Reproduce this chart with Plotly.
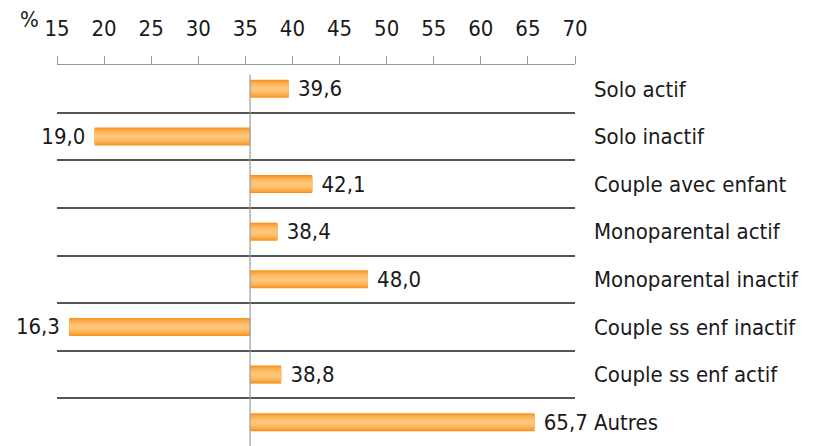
import plotly.graph_objects as go

categories = ["Solo actif", "Solo inactif", "Couple avec enfant", "Monoparental actif",
              "Monoparental inactif", "Couple ss enf inactif", "Couple ss enf actif", "Autres"]
values = [39.6, 19.0, 42.1, 38.4, 48.0, 16.3, 38.8, 65.7]
base_value = 35.5
x_ticks = list(range(15, 75, 5))

FONT = "DejaVu Sans Condensed, Liberation Sans Narrow, Arial Narrow, sans-serif"
SIZE = 22
deltas = [v - base_value for v in values]
labels = [(" " + f"{v:.1f}".replace(".", ",")) if v >= base_value
          else (f"{v:.1f}".replace(".", ",") + " ") for v in values]

fig = go.Figure()
# gradient look: stacked overlay layers of decreasing thickness
layers = [(0.38, "#F7931B"), (0.33, "#F9A136"), (0.28, "#FAAD4C"),
          (0.22, "#FBB75D"), (0.16, "#FCBF6B"), (0.09, "#FDC575")]
for i, (w, c) in enumerate(layers):
    fig.add_trace(go.Bar(
        y=categories, x=deltas, base=base_value, orientation="h",
        width=w, marker=dict(color=c, line=dict(width=0)),
        text=labels if i == 0 else None,
        textposition="outside" if i == 0 else "none",
        constraintext="none",
        textfont=dict(family=FONT, size=SIZE, color="#1a1a1a"),
        cliponaxis=False, hoverinfo="skip", showlegend=False,
    ))

fig.add_shape(type="line", xref="x", yref="paper", x0=base_value, x1=base_value,
              y0=0, y1=0.975, line=dict(color="#999999", width=1.2))

fig.add_annotation(text="%", xref="paper", yref="paper", x=-0.03, y=1.0, yshift=31,
                   xanchor="right", yanchor="bottom", showarrow=False,
                   font=dict(family=FONT, size=SIZE, color="#1a1a1a"))

fig.update_layout(
    width=814, height=446, barmode="overlay",
    margin=dict(l=49, r=247, t=57, b=8, autoexpand=False),
    paper_bgcolor="white", plot_bgcolor="white",
    font=dict(family=FONT, size=SIZE, color="#1a1a1a"),
    xaxis=dict(side="top", range=[15, 70], tickvals=x_ticks, ticks="outside",
               ticklen=8, tickcolor="#999999", tickwidth=1.2, showline=True,
               linecolor="#999999", linewidth=1.2, showgrid=False, zeroline=False,
               ticklabelstandoff=11, tickfont=dict(size=SIZE)),
    yaxis=dict(side="right", range=[7.5, -0.5], tickson="boundaries",
               showgrid=True, gridcolor="#555555", gridwidth=1.5, ticks="",
               ticklabelstandoff=18, showline=False, zeroline=False,
               tickfont=dict(size=SIZE)),
)

fig.write_html("out.html")
